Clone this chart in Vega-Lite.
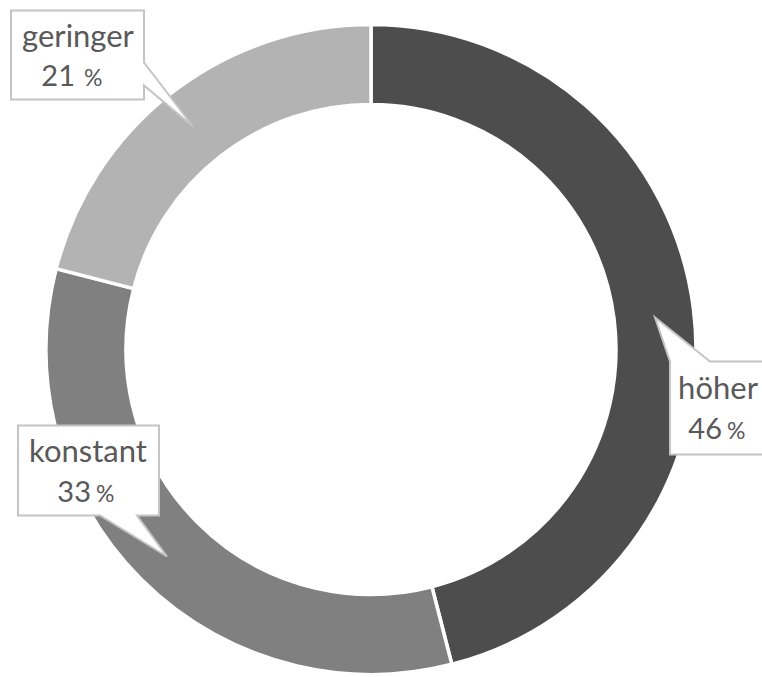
{
  "$schema": "https://vega.github.io/schema/vega-lite/v6.json",
  "width": 742,
  "height": 655,
  "autosize": {"type": "none"},
  "padding": {"left": 0, "top": 22, "right": 20, "bottom": 0},
  "background": "white",
  "config": {"view": {"stroke": null}},
  "data": {
    "values": [
      {"cat": "höher", "value": 46},
      {"cat": "konstant", "value": 33},
      {"cat": "geringer", "value": 21}
    ]
  },
  "layer": [
    {
      "mark": {"type": "arc", "outerRadius": 325, "innerRadius": 245, "stroke": "white", "strokeWidth": 3.5},
      "encoding": {
        "theta": {"field": "value", "type": "quantitative", "stack": true},
        "order": {"field": "value", "type": "quantitative", "sort": "descending"},
        "color": {
          "field": "cat",
          "type": "nominal",
          "scale": {"domain": ["höher", "konstant", "geringer"], "range": ["#4d4d4d", "#808080", "#b3b3b3"]},
          "legend": null
        }
      }
    },
    {
      "mark": {"type": "point", "filled": true, "fill": "white", "fillOpacity": 1, "stroke": "#c4c4c4", "strokeOpacity": 1, "strokeWidth": 2, "size": 4, "opacity": 1},
      "encoding": {
        "shape": {
          "field": "cat",
          "type": "nominal",
          "scale": {
            "domain": ["höher", "konstant", "geringer"],
            "range": [
              "M299,105 L299,12 L284,-32 L339,12 L395,12 L395,105 Z",
              "M-353,76 L-212,76 L-212,166 L-234,166 L-204,207 L-271,166 L-353,166 Z",
              "M-360,-339 L-227,-339 L-227,-287 L-178,-223 L-227,-264 L-227,-250 L-360,-250 Z"
            ]
          },
          "legend": null
        }
      }
    },
    {
      "transform": [{"filter": "datum.cat === 'höher'"}],
      "mark": {"type": "text", "font": "Lato", "fontSize": 31, "color": "#595959", "baseline": "alphabetic", "align": "center", "dx": 347, "dy": 49.5},
      "encoding": {"text": {"field": "cat", "type": "nominal"}}
    },
    {
      "transform": [{"filter": "datum.cat === 'höher'"}],
      "mark": {"type": "text", "font": "Lato", "fontSize": 29, "color": "#595959", "baseline": "alphabetic", "align": "right", "dx": 351, "dy": 89.5},
      "encoding": {"text": {"field": "value", "type": "quantitative"}}
    },
    {
      "transform": [{"filter": "datum.cat === 'höher'"}],
      "mark": {"type": "text", "text": "%", "font": "Lato", "fontSize": 23, "color": "#595959", "baseline": "alphabetic", "align": "left", "dx": 356, "dy": 89.5},
      "encoding": {}
    },
    {
      "transform": [{"filter": "datum.cat === 'konstant'"}],
      "mark": {"type": "text", "font": "Lato", "fontSize": 31, "color": "#595959", "baseline": "alphabetic", "align": "center", "dx": -283, "dy": 112.5},
      "encoding": {"text": {"field": "cat", "type": "nominal"}}
    },
    {
      "transform": [{"filter": "datum.cat === 'konstant'"}],
      "mark": {"type": "text", "font": "Lato", "fontSize": 29, "color": "#595959", "baseline": "alphabetic", "align": "right", "dx": -280, "dy": 152.5},
      "encoding": {"text": {"field": "value", "type": "quantitative"}}
    },
    {
      "transform": [{"filter": "datum.cat === 'konstant'"}],
      "mark": {"type": "text", "text": "%", "font": "Lato", "fontSize": 23, "color": "#595959", "baseline": "alphabetic", "align": "left", "dx": -275, "dy": 152.5},
      "encoding": {}
    },
    {
      "transform": [{"filter": "datum.cat === 'geringer'"}],
      "mark": {"type": "text", "font": "Lato", "fontSize": 31, "color": "#595959", "baseline": "alphabetic", "align": "center", "dx": -293, "dy": -302.5},
      "encoding": {"text": {"field": "cat", "type": "nominal"}}
    },
    {
      "transform": [{"filter": "datum.cat === 'geringer'"}],
      "mark": {"type": "text", "font": "Lato", "fontSize": 29, "color": "#595959", "baseline": "alphabetic", "align": "right", "dx": -296, "dy": -263.5},
      "encoding": {"text": {"field": "value", "type": "quantitative"}}
    },
    {
      "transform": [{"filter": "datum.cat === 'geringer'"}],
      "mark": {"type": "text", "text": "%", "font": "Lato", "fontSize": 23, "color": "#595959", "baseline": "alphabetic", "align": "left", "dx": -287, "dy": -263.5},
      "encoding": {}
    }
  ]
}
